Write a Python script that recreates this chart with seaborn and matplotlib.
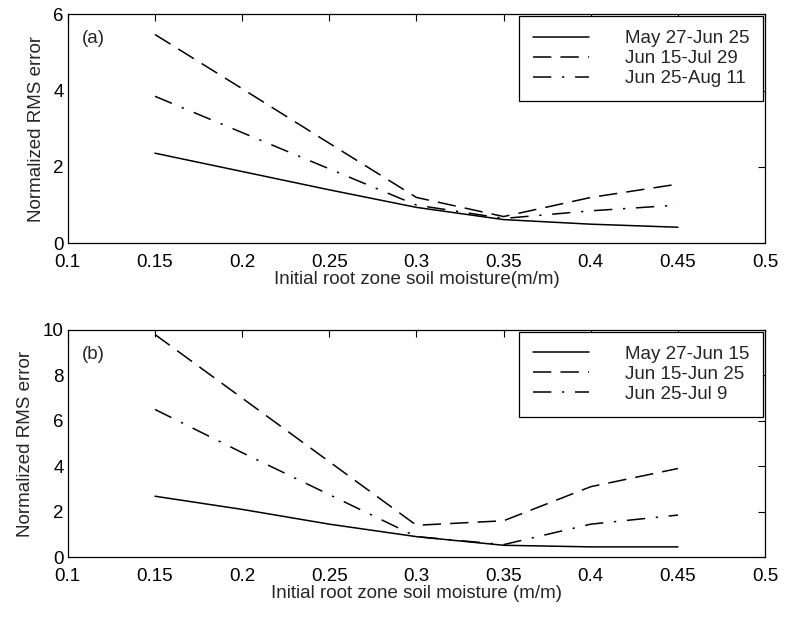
"""
Normalized RMS error vs initial root zone soil moisture, two panels (a) and (b).
"""

import pandas as pd
import matplotlib
matplotlib.use("Agg")
import matplotlib.pyplot as plt
import seaborn as sns

# ------------------------------------------------------------
# data
# ------------------------------------------------------------
moisture = [0.15, 0.20, 0.25, 0.30, 0.35, 0.40, 0.45]

periods_a = ["May 27-Jun 25", "Jun 15-Jul 29", "Jun 25-Aug 11"]
rms_a_1 = [2.36, 1.88, 1.40, 0.94, 0.62, 0.50, 0.42]
rms_a_2 = [5.47, 4.05, 2.62, 1.20, 0.70, 1.20, 1.55]
rms_a_3 = [3.85, 2.90, 1.95, 1.00, 0.65, 0.85, 1.00]

periods_b = ["May 27-Jun 15", "Jun 15-Jun 25", "Jun 25-Jul 9"]
rms_b_1 = [2.68, 2.10, 1.45, 0.90, 0.52, 0.45, 0.45]
rms_b_2 = [9.80, 7.00, 4.20, 1.40, 1.60, 3.10, 3.90]
rms_b_3 = [6.50, 4.60, 2.75, 0.90, 0.55, 1.45, 1.85]

x_ticks = [0.1, 0.15, 0.2, 0.25, 0.3, 0.35, 0.4, 0.45, 0.5]
x_ticklabels = ["0.1", "0.15", "0.2", "0.25", "0.3", "0.35", "0.4", "0.45", "0.5"]

DASHES = ["", (12, 6), (12, 7, 1.5, 7)]
FS = 13.5


def long_frame(periods, series):
    rows = []
    for name, vals in zip(periods, series):
        for x, y in zip(moisture, vals):
            rows.append({"moisture": x, "rms": y, "period": name})
    return pd.DataFrame(rows)


def draw_panel(ax, df, periods, ymax, yticks, tag, xlabel):
    sns.lineplot(data=df, x="moisture", y="rms", style="period",
                 style_order=periods, dashes=DASHES, color="black",
                 linewidth=1.1, ax=ax)
    ax.set_xlim(0.1, 0.5)
    ax.set_ylim(0, ymax)
    ax.set_xticks(x_ticks)
    ax.set_xticklabels(x_ticklabels)
    ax.set_yticks(yticks)
    ax.tick_params(direction="in", top=True, right=True, length=5,
                   width=0.8, labelsize=FS, colors="black")
    ax.tick_params(axis="x", pad=7.5)
    ax.tick_params(axis="y", pad=3)
    for s in ax.spines.values():
        s.set_color("black")
        s.set_linewidth(0.9)
    ax.set_xlabel(xlabel, fontsize=FS, labelpad=0)
    ax.set_ylabel("Normalized RMS error", fontsize=FS, labelpad=6)
    ax.text(0.02, 0.93, tag, transform=ax.transAxes, fontsize=FS,
            va="top", ha="left")
    leg = ax.legend(loc="upper right", fancybox=False, framealpha=1,
                    edgecolor="black", fontsize=FS, handlelength=3.0,
                    handletextpad=1.9, borderpad=0.75, labelspacing=0.15,
                    borderaxespad=0.1)
    leg.get_frame().set_linewidth(0.9)


def main():
    sns.set_style("white")
    plt.rcParams["font.family"] = ["Liberation Sans", "DejaVu Sans"]

    fig = plt.figure(figsize=(7.88, 6.19), dpi=100)
    ax_a = fig.add_axes([0.086, 0.607, 0.885, 0.370])
    ax_b = fig.add_axes([0.086, 0.100, 0.885, 0.367])

    df_a = long_frame(periods_a, [rms_a_1, rms_a_2, rms_a_3])
    df_b = long_frame(periods_b, [rms_b_1, rms_b_2, rms_b_3])

    draw_panel(ax_a, df_a, periods_a, 6, [0, 2, 4, 6], "(a)",
               "Initial root zone soil moisture(m/m)")
    draw_panel(ax_b, df_b, periods_b, 10, [0, 2, 4, 6, 8, 10], "(b)",
               "Initial root zone soil moisture (m/m)")

    fig.savefig("out.png", dpi=100, facecolor="white")
    plt.close(fig)


if __name__ == "__main__":
    main()
